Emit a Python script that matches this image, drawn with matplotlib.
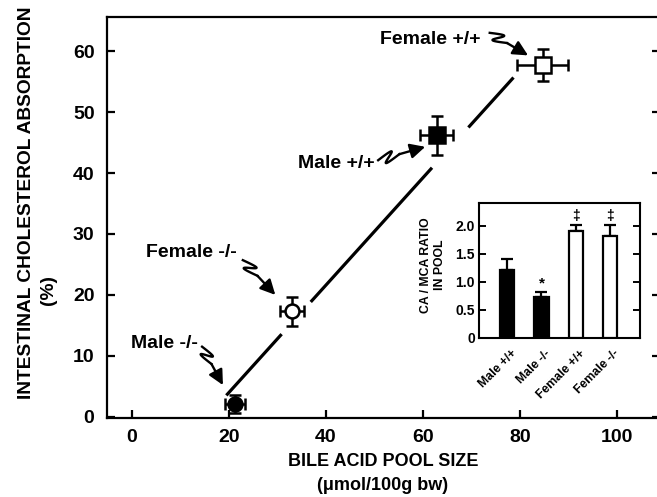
import matplotlib
matplotlib.use('Agg')
import matplotlib.pyplot as plt
import numpy as np
from matplotlib.patches import FancyArrowPatch

plt.rcParams['font.family'] = ['Liberation Sans', 'DejaVu Sans']
plt.rcParams['font.weight'] = 'bold'
INK = 'black'

# main panel: pool size vs absorption (mean +/- SE)
groups = ['Male -/-', 'Female -/-', 'Male +/+', 'Female +/+']
pool = [21.3, 33.1, 62.9, 84.7]
pool_err = [2.0, 2.5, 3.4, 5.3]
absorb = [2.1, 17.3, 46.2, 57.7]
absorb_err = [1.5, 2.4, 3.2, 2.6]
markers = ['o', 'o', 's', 's']
filled = [True, False, True, False]

# inset: CA/MCA ratio in pool
ratio_groups = ['Male +/+', 'Male -/-', 'Female +/+', 'Female -/-']
ratio = [1.21, 0.72, 1.91, 1.82]
ratio_err = [0.20, 0.09, 0.10, 0.19]
ratio_mark = ['', '*', '\u2021', '\u2021']
ratio_filled = [True, True, False, False]

W, H = 657, 497
fig = plt.figure(figsize=(W / 100, H / 100), dpi=100)
ax = fig.add_axes([107 / W, 1 - 418 / H, (660 - 107) / W, (418 - 17) / H])
ax.set_xlim(-5.1, 108.9)
ax.set_ylim(-0.2, 65.6)
for s in ax.spines.values():
    s.set_linewidth(1.6)
ax.set_xticks([0, 20, 40, 60, 80, 100])
ax.set_yticks([0, 10, 20, 30, 40, 50, 60])
ax.tick_params(axis='both', direction='in', length=6, width=1.6, labelsize=14)
ax.tick_params(axis='y', right=True, pad=9)
ax.tick_params(axis='x', pad=8)

# regression line, broken around the points
k, b = np.polyfit(pool, absorb, 1)
for xa, xb in [(19.5, 30.9), (36.9, 61.9), (69.4, 78.7)]:
    xs = np.array([xa, xb])
    ax.plot(xs, k * xs + b, color=INK, lw=2.3, solid_capstyle='butt', zorder=2)

for i in range(len(groups)):
    ms = 11 if markers[i] == 's' else 10
    ax.errorbar(pool[i], absorb[i], xerr=pool_err[i], yerr=absorb_err[i],
                fmt=markers[i], ms=ms, mfc=INK if filled[i] else 'white',
                mec=INK, mew=1.8, ecolor=INK, elinewidth=1.8, capsize=4,
                capthick=1.8, zorder=4)


def squiggle(start, end, amp=5, frac=0.45, flip=1):
    # wavy lead-in followed by a straight arrow
    p0 = ax.transData.transform(start)
    p1 = ax.transData.transform(end)
    d = p1 - p0
    L = np.hypot(*d)
    u = d / L
    n = np.array([-u[1], u[0]]) * flip
    L1 = frac * L
    t = np.linspace(0, 1, 120)
    along = L1 * (t + 0.42 * np.sin(2 * np.pi * t))
    perp = amp * np.sin(2 * np.pi * t)
    pts = p0 + np.outer(along, u) + np.outer(perp, n)
    dp = ax.transData.inverted().transform(pts)
    ax.plot(dp[:, 0], dp[:, 1], color=INK, lw=1.7, zorder=5)
    a0 = ax.transData.inverted().transform(p0 + u * L1)
    ax.add_patch(FancyArrowPatch(tuple(a0), end, arrowstyle='-|>,head_length=0.6,head_width=0.3',
                                 mutation_scale=15, color=INK, lw=1.7, shrinkA=0, shrinkB=0,
                                 zorder=5))


labels = [('Female +/+', 61.5, 61.9, (73.8, 63.0), (81.7, 59.3)),
          ('Male +/+', 42.1, 41.6, (50.8, 42.1), (60.5, 44.3)),
          ('Female -/-', 12.2, 27.0, (22.9, 25.7), (29.6, 20.0)),
          ('Male -/-', 6.7, 12.1, (14.5, 11.5), (18.8, 5.2))]
for txt, tx, ty, s0, s1 in labels:
    ax.text(tx, ty, txt, ha='center', va='center', fontsize=14, weight='bold')
    squiggle(s0, s1)

fig.text(383 / W, 1 - 462 / H, 'BILE ACID POOL SIZE', ha='center', va='center',
         fontsize=13, weight='bold')
fig.text(383 / W, 1 - 486 / H, '(\u03bcmol/100g bw)', ha='center', va='center',
         fontsize=13, weight='bold')
fig.text(27 / W, 1 - 203 / H, 'INTESTINAL CHOLESTEROL ABSORPTION', ha='center',
         va='center', rotation=90, fontsize=13.8, weight='bold')
fig.text(48 / W, 1 - 290 / H, '(%)', ha='center', va='center', rotation=90,
         fontsize=13.8, weight='bold')

# inset bar chart
ins = fig.add_axes([479 / W, 1 - 337.7 / H, (640 - 479) / W, (337.7 - 202.7) / H])
xi = np.arange(len(ratio_groups))
ins.bar(xi, ratio, width=0.41, color=[INK if f else 'white' for f in ratio_filled],
        edgecolor=INK, lw=1.6, zorder=3)
ins.errorbar(xi, ratio, yerr=[np.zeros(len(ratio)), ratio_err], fmt='none', ecolor=INK,
             elinewidth=1.6, capsize=4, capthick=1.6, zorder=2)
for i, m in enumerate(ratio_mark):
    if m:
        ins.text(xi[i], ratio[i] + ratio_err[i] + 0.04, m, ha='center', va='bottom',
                 fontsize=11 if m == '*' else 10, weight='bold')
ins.set_xlim(-0.82, 3.87)
ins.set_ylim(0, 2.41)
ins.set_yticks([0, 0.5, 1.0, 1.5, 2.0])
ins.set_yticklabels(['0', '0.5', '1.0', '1.5', '2.0'])
ins.set_xticks(xi + 0.1)
ins.set_xticklabels(ratio_groups, rotation=45, ha='right', va='top', rotation_mode='anchor',
                    fontsize=8.8, weight='bold')
ins.tick_params(axis='x', length=0, pad=7)
ins.tick_params(axis='y', direction='in', right=True, length=5, width=1.4, labelsize=10, pad=3)
for s in ins.spines.values():
    s.set_linewidth(1.5)
fig.text(426 / W, 1 - 265 / H, 'CA / MCA RATIO', ha='center', va='center', rotation=90,
         fontsize=8.8, weight='bold')
fig.text(440 / W, 1 - 265 / H, 'IN POOL', ha='center', va='center', rotation=90,
         fontsize=8.8, weight='bold')

fig.savefig('out.png', dpi=100, facecolor='white')
